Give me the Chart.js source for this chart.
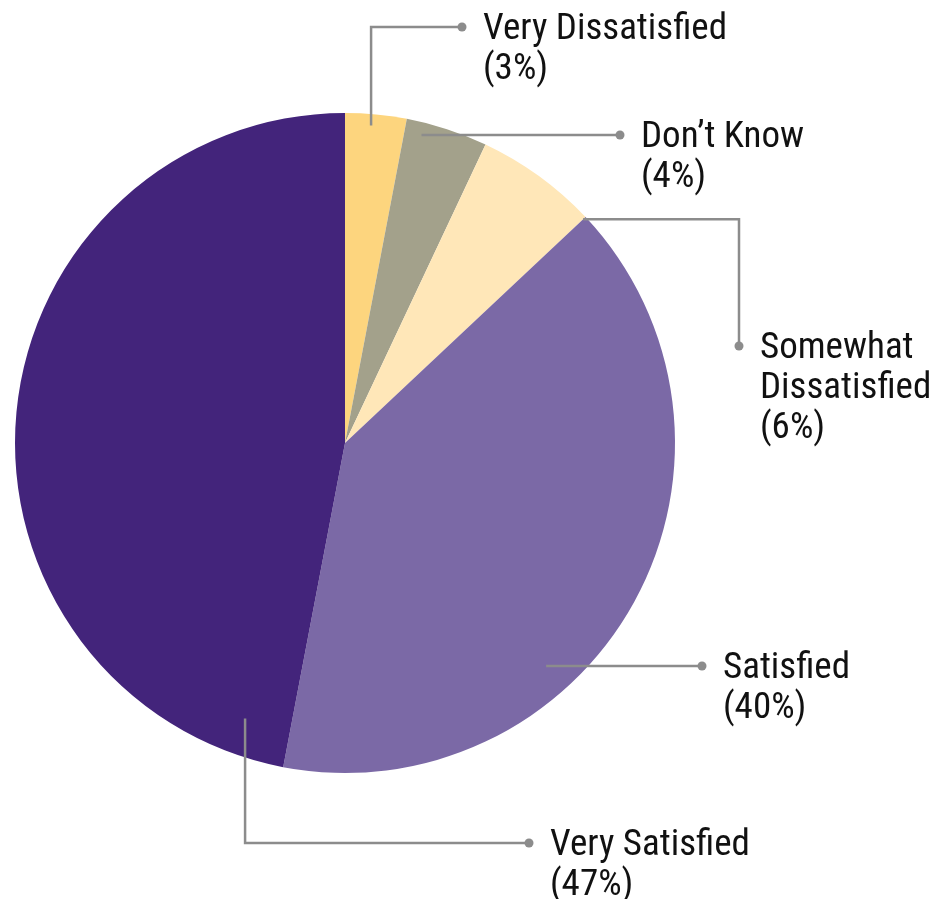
<!DOCTYPE html>
<html>
<head>
<meta charset="utf-8">
<script src="https://cdn.jsdelivr.net/npm/chart.js@4/dist/chart.umd.min.js"></script>
<style>
  html, body { margin: 0; padding: 0; background: #ffffff; }
  #wrap { width: 934px; height: 899px; }
</style>
</head>
<body>
<div id="wrap"><canvas id="pie"></canvas></div>
<script>
// Survey responses, clockwise from 12 o'clock
const categories = ['Very Dissatisfied', "Don\u2019t Know", 'Somewhat Dissatisfied', 'Satisfied', 'Very Satisfied'];
const shares = [3, 4, 6, 40, 47];
const sliceColors = ['#fdd57e', '#a3a18b', '#ffe7b8', '#7b69a6', '#43247b'];

// Label text lines (name may wrap)
const labelLines = [
  ['Very Dissatisfied'],
  ["Don\u2019t Know"],
  ['Somewhat', 'Dissatisfied'],
  ['Satisfied'],
  ['Very Satisfied']
];

// Callout layout: anchor inside slice (angle fraction across slice, radius fraction),
// routing of the leader line, and the dot/text position.
const callouts = [
  { at: 0.435, rf: 0.965, route: 'vh',   dot: [462, 27] },
  { at: 0.22,  rf: 0.96,  route: 'flat', dot: [620, 135] },
  { at: 1.00,  rf: 0.99,  route: 'hv',   dot: [739, 346] },
  { at: 0.633, rf: 0.91,  route: 'flat', dot: [702, 666] },
  { at: 0.054, rf: 0.888, route: 'vh',   dot: [529, 843] }
];

const FONT = '"Liberation Sans Narrow", "Roboto Condensed", Roboto, sans-serif';

const calloutPlugin = {
  id: 'callouts',
  afterDatasetsDraw(chart) {
    const ctx = chart.ctx;
    const meta = chart.getDatasetMeta(0);
    ctx.save();
    meta.data.forEach((arc, i) => {
      const c = callouts[i];
      const { x, y, startAngle, endAngle, outerRadius } = arc.getProps(['x', 'y', 'startAngle', 'endAngle', 'outerRadius'], true);
      const a = startAngle + (endAngle - startAngle) * c.at;
      const ax = x + Math.cos(a) * outerRadius * c.rf;
      const ay = y + Math.sin(a) * outerRadius * c.rf;
      const [dx, dy] = c.dot;

      ctx.strokeStyle = '#8c8c8c';
      ctx.lineWidth = 2.5;
      ctx.beginPath();
      if (c.route === 'flat') {
        ctx.moveTo(ax, dy);
        ctx.lineTo(dx, dy);
      } else if (c.route === 'hv') {
        ctx.moveTo(ax, ay);
        ctx.lineTo(dx, ay);
        ctx.lineTo(dx, dy);
      } else {
        ctx.moveTo(ax, ay);
        ctx.lineTo(ax, dy);
        ctx.lineTo(dx, dy);
      }
      ctx.stroke();

      ctx.fillStyle = '#8c8c8c';
      ctx.beginPath();
      ctx.arc(dx, dy, 4.5, 0, Math.PI * 2);
      ctx.fill();

      ctx.fillStyle = '#111111';
      ctx.font = '37px ' + FONT;
      ctx.textAlign = 'left';
      ctx.textBaseline = 'alphabetic';
      const tx = dx + 21;
      let ty = dy + 12;
      const lines = labelLines[i].concat(['(' + shares[i] + '%)']);
      lines.forEach((ln) => {
        ctx.fillText(ln, tx, ty);
        ty += 40;
      });
    });
    ctx.restore();
  }
};

new Chart(document.getElementById('pie'), {
  type: 'pie',
  data: {
    labels: categories,
    datasets: [{
      data: shares,
      backgroundColor: sliceColors,
      borderWidth: 0
    }]
  },
  options: {
    responsive: true,
    maintainAspectRatio: false,
    animation: false,
    layout: { padding: { left: 15, top: 113, right: 259, bottom: 126 } },
    plugins: { legend: { display: false }, tooltip: { enabled: false } },
    events: []
  },
  plugins: [calloutPlugin]
});
</script>
</body>
</html>
